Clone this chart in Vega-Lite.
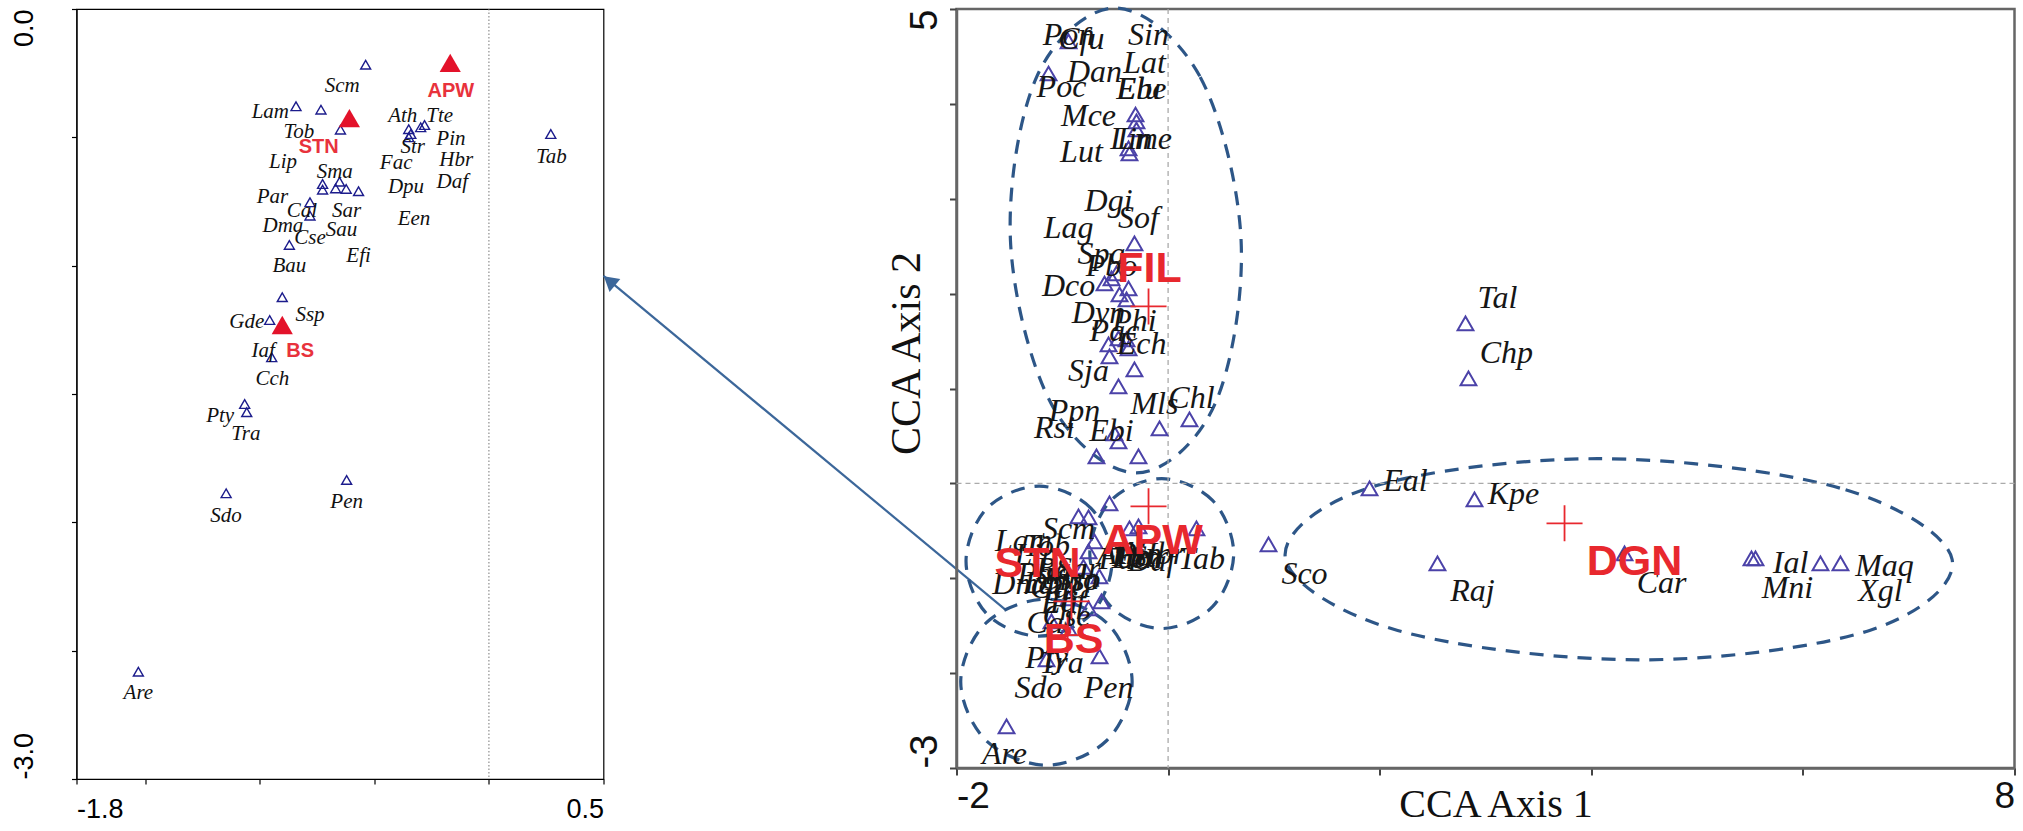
{
  "$schema": "https://vega.github.io/schema/vega-lite/v6.json",
  "background": "white",
  "padding": {"left": 9.5, "top": 0, "right": 0, "bottom": 0},
  "bounds": "flush",
  "spacing": 353,
  "config": {"axis": {"grid": false, "labelOverlap": false, "labelBound": false}},
  "datasets": {
    "left_points": [
      {"sp": "Scm", "x": -0.538, "y": -0.217, "grp": "sp"},
      {"sp": "Lam", "x": -0.842, "y": -0.379, "grp": "sp"},
      {"sp": "Tob", "x": -0.733, "y": -0.392, "grp": "sp"},
      {"sp": "Lip", "x": -0.648, "y": -0.470, "grp": "sp"},
      {"sp": "Ath", "x": -0.350, "y": -0.468, "grp": "sp"},
      {"sp": "Str", "x": -0.341, "y": -0.487, "grp": "sp"},
      {"sp": "Fac", "x": -0.350, "y": -0.500, "grp": "sp"},
      {"sp": "Tte", "x": -0.298, "y": -0.461, "grp": "sp"},
      {"sp": "Pin", "x": -0.281, "y": -0.452, "grp": "sp"},
      {"sp": "Tab", "x": 0.270, "y": -0.487, "grp": "sp"},
      {"sp": "Sma", "x": -0.726, "y": -0.682, "grp": "sp"},
      {"sp": "Par", "x": -0.726, "y": -0.704, "grp": "sp"},
      {"sp": "Sar", "x": -0.669, "y": -0.699, "grp": "sp"},
      {"sp": "Dpu", "x": -0.652, "y": -0.673, "grp": "sp"},
      {"sp": "Sau", "x": -0.623, "y": -0.701, "grp": "sp"},
      {"sp": "Efi", "x": -0.569, "y": -0.710, "grp": "sp"},
      {"sp": "Cal", "x": -0.781, "y": -0.753, "grp": "sp"},
      {"sp": "Dma", "x": -0.781, "y": -0.805, "grp": "sp"},
      {"sp": "Bau", "x": -0.871, "y": -0.919, "grp": "sp"},
      {"sp": "Ssp", "x": -0.902, "y": -1.123, "grp": "sp"},
      {"sp": "Gde", "x": -0.957, "y": -1.212, "grp": "sp"},
      {"sp": "Iaf", "x": -0.948, "y": -1.357, "grp": "sp"},
      {"sp": "Pty", "x": -1.066, "y": -1.539, "grp": "sp"},
      {"sp": "Tra", "x": -1.057, "y": -1.571, "grp": "sp"},
      {"sp": "Sdo", "x": -1.147, "y": -1.887, "grp": "sp"},
      {"sp": "Pen", "x": -0.621, "y": -1.835, "grp": "sp"},
      {"sp": "Are", "x": -1.530, "y": -2.582, "grp": "sp"},
      {"sp": "APW", "x": -0.169, "y": -0.210, "grp": "site"},
      {"sp": "STN", "x": -0.609, "y": -0.425, "grp": "site"},
      {"sp": "BS", "x": -0.902, "y": -1.231, "grp": "site"}
    ],
    "left_labels": [
      {"sp": "Scm", "x": -0.640, "y": -0.301, "grp": "sp"},
      {"sp": "Lam", "x": -0.954, "y": -0.400, "grp": "sp"},
      {"sp": "Tob", "x": -0.830, "y": -0.478, "grp": "sp"},
      {"sp": "Lip", "x": -0.899, "y": -0.597, "grp": "sp"},
      {"sp": "Ath", "x": -0.376, "y": -0.416, "grp": "sp"},
      {"sp": "Tte", "x": -0.215, "y": -0.418, "grp": "sp"},
      {"sp": "Pin", "x": -0.166, "y": -0.506, "grp": "sp"},
      {"sp": "Str", "x": -0.333, "y": -0.536, "grp": "sp"},
      {"sp": "Hbr", "x": -0.143, "y": -0.587, "grp": "sp"},
      {"sp": "Fac", "x": -0.405, "y": -0.601, "grp": "sp"},
      {"sp": "Daf", "x": -0.160, "y": -0.673, "grp": "sp"},
      {"sp": "Sma", "x": -0.673, "y": -0.636, "grp": "sp"},
      {"sp": "Dpu", "x": -0.362, "y": -0.695, "grp": "sp"},
      {"sp": "Par", "x": -0.945, "y": -0.734, "grp": "sp"},
      {"sp": "Cal", "x": -0.816, "y": -0.786, "grp": "sp"},
      {"sp": "Sar", "x": -0.621, "y": -0.788, "grp": "sp"},
      {"sp": "Een", "x": -0.327, "y": -0.818, "grp": "sp"},
      {"sp": "Dma", "x": -0.899, "y": -0.844, "grp": "sp"},
      {"sp": "Sau", "x": -0.643, "y": -0.861, "grp": "sp"},
      {"sp": "Cse", "x": -0.781, "y": -0.894, "grp": "sp"},
      {"sp": "Efi", "x": -0.569, "y": -0.961, "grp": "sp"},
      {"sp": "Bau", "x": -0.871, "y": -1.003, "grp": "sp"},
      {"sp": "Ssp", "x": -0.781, "y": -1.191, "grp": "sp"},
      {"sp": "Gde", "x": -1.057, "y": -1.221, "grp": "sp"},
      {"sp": "Iaf", "x": -0.985, "y": -1.331, "grp": "sp"},
      {"sp": "Cch", "x": -0.945, "y": -1.442, "grp": "sp"},
      {"sp": "Pty", "x": -1.173, "y": -1.584, "grp": "sp"},
      {"sp": "Tra", "x": -1.061, "y": -1.656, "grp": "sp"},
      {"sp": "Sdo", "x": -1.147, "y": -1.974, "grp": "sp"},
      {"sp": "Pen", "x": -0.621, "y": -1.922, "grp": "sp"},
      {"sp": "Are", "x": -1.530, "y": -2.666, "grp": "sp"},
      {"sp": "Tab", "x": 0.272, "y": -0.575, "grp": "sp"},
      {"sp": "APW", "x": -0.166, "y": -0.321, "grp": "site"},
      {"sp": "STN", "x": -0.743, "y": -0.539, "grp": "site"},
      {"sp": "BS", "x": -0.824, "y": -1.331, "grp": "site"}
    ],
    "arrow": [
      {"part": "shaft", "x": 0.5, "y": -1.040, "x2": 2.251, "y2": -2.338},
      {"part": "head", "x": 0.5256, "y": -1.059, "x2": 0.5256, "y2": -1.059}
    ],
    "ellipses": [
      {"grp": "FIL", "ord": 0, "x": 0.69, "y": 2.56},
      {"grp": "FIL", "ord": 1, "x": 0.30, "y": 4.29},
      {"grp": "FIL", "ord": 2, "x": -0.50, "y": 5.01},
      {"grp": "FIL", "ord": 3, "x": -1.24, "y": 4.29},
      {"grp": "FIL", "ord": 4, "x": -1.49, "y": 2.56},
      {"grp": "FIL", "ord": 5, "x": -1.10, "y": 0.83},
      {"grp": "FIL", "ord": 6, "x": -0.30, "y": 0.11},
      {"grp": "FIL", "ord": 7, "x": 0.44, "y": 0.83},
      {"grp": "STN", "ord": 0, "x": -0.53, "y": -0.82},
      {"grp": "STN", "ord": 1, "x": -0.73, "y": -0.26},
      {"grp": "STN", "ord": 2, "x": -1.22, "y": -0.03},
      {"grp": "STN", "ord": 3, "x": -1.71, "y": -0.26},
      {"grp": "STN", "ord": 4, "x": -1.91, "y": -0.82},
      {"grp": "STN", "ord": 5, "x": -1.71, "y": -1.38},
      {"grp": "STN", "ord": 6, "x": -1.22, "y": -1.61},
      {"grp": "STN", "ord": 7, "x": -0.73, "y": -1.38},
      {"grp": "APW", "ord": 0, "x": 0.62, "y": -0.74},
      {"grp": "APW", "ord": 1, "x": 0.42, "y": -0.18},
      {"grp": "APW", "ord": 2, "x": -0.06, "y": 0.05},
      {"grp": "APW", "ord": 3, "x": -0.54, "y": -0.18},
      {"grp": "APW", "ord": 4, "x": -0.74, "y": -0.74},
      {"grp": "APW", "ord": 5, "x": -0.54, "y": -1.30},
      {"grp": "APW", "ord": 6, "x": -0.06, "y": -1.53},
      {"grp": "APW", "ord": 7, "x": 0.42, "y": -1.30},
      {"grp": "BS", "ord": 0, "x": -0.34, "y": -2.09},
      {"grp": "BS", "ord": 1, "x": -0.58, "y": -1.47},
      {"grp": "BS", "ord": 2, "x": -1.15, "y": -1.22},
      {"grp": "BS", "ord": 3, "x": -1.72, "y": -1.47},
      {"grp": "BS", "ord": 4, "x": -1.96, "y": -2.09},
      {"grp": "BS", "ord": 5, "x": -1.72, "y": -2.71},
      {"grp": "BS", "ord": 6, "x": -1.15, "y": -2.97},
      {"grp": "BS", "ord": 7, "x": -0.58, "y": -2.71},
      {"grp": "DGN", "ord": 0, "x": 7.41, "y": -0.80},
      {"grp": "DGN", "ord": 1, "x": 6.35, "y": -0.05},
      {"grp": "DGN", "ord": 2, "x": 4.06, "y": 0.26},
      {"grp": "DGN", "ord": 3, "x": 1.89, "y": -0.05},
      {"grp": "DGN", "ord": 4, "x": 1.11, "y": -0.80},
      {"grp": "DGN", "ord": 5, "x": 2.17, "y": -1.55},
      {"grp": "DGN", "ord": 6, "x": 4.46, "y": -1.86},
      {"grp": "DGN", "ord": 7, "x": 6.63, "y": -1.55}
    ],
    "right_points": [
      {"sp": "Pon", "x": -0.941, "y": 4.658}, {"sp": "Poc", "x": -1.130, "y": 4.320},
      {"sp": "Elu", "x": -0.308, "y": 3.888}, {"sp": "Mce", "x": -0.299, "y": 3.815},
      {"sp": "Lin", "x": -0.299, "y": 3.730}, {"sp": "Lme", "x": -0.374, "y": 3.530},
      {"sp": "Lut", "x": -0.365, "y": 3.477}, {"sp": "Sof", "x": -0.318, "y": 2.529},
      {"sp": "Spa", "x": -0.488, "y": 2.213}, {"sp": "Pbo", "x": -0.535, "y": 2.160},
      {"sp": "Dco", "x": -0.601, "y": 2.107}, {"sp": "Dgi", "x": -0.374, "y": 2.055},
      {"sp": "Lag", "x": -0.459, "y": 1.992}, {"sp": "Dyn", "x": -0.393, "y": 1.939},
      {"sp": "Phi", "x": -0.469, "y": 1.528}, {"sp": "Ech", "x": -0.393, "y": 1.517},
      {"sp": "Pac", "x": -0.563, "y": 1.465}, {"sp": "Cfu", "x": -0.374, "y": 1.423},
      {"sp": "Sja", "x": -0.554, "y": 1.338}, {"sp": "Sin", "x": -0.318, "y": 1.201},
      {"sp": "Dan", "x": -0.469, "y": 1.022}, {"sp": "Chl", "x": 0.202, "y": 0.674},
      {"sp": "Mls", "x": -0.081, "y": 0.580}, {"sp": "Ebi", "x": -0.507, "y": 0.527},
      {"sp": "Ppn", "x": -0.469, "y": 0.443}, {"sp": "Rsi", "x": -0.677, "y": 0.285},
      {"sp": "Lat", "x": -0.280, "y": 0.285},
      {"sp": "Scm", "x": -0.554, "y": -0.211}, {"sp": "Lam", "x": -0.847, "y": -0.348},
      {"sp": "Tob", "x": -0.752, "y": -0.358}, {"sp": "Ath", "x": -0.365, "y": -0.474},
      {"sp": "Tte", "x": -0.280, "y": -0.453}, {"sp": "Tab", "x": 0.268, "y": -0.474},
      {"sp": "Lip", "x": -0.696, "y": -0.611}, {"sp": "Sma", "x": -0.752, "y": -0.717},
      {"sp": "Dma", "x": -0.800, "y": -0.880}, {"sp": "Sar", "x": -0.650, "y": -0.980},
      {"sp": "Cse", "x": -0.941, "y": -1.212}, {"sp": "Cal", "x": -0.752, "y": -1.317},
      {"sp": "Iaf", "x": -0.630, "y": -1.243}, {"sp": "Gde", "x": -1.102, "y": -1.454},
      {"sp": "Cch", "x": -0.941, "y": -1.528}, {"sp": "Tra", "x": -1.149, "y": -1.855},
      {"sp": "Pen", "x": -0.648, "y": -1.823}, {"sp": "Are", "x": -1.527, "y": -2.561},
      {"sp": "Sco", "x": 0.949, "y": -0.643}, {"sp": "Eal", "x": 1.904, "y": -0.053},
      {"sp": "Kpe", "x": 2.896, "y": -0.169}, {"sp": "Tal", "x": 2.811, "y": 1.686},
      {"sp": "Chp", "x": 2.839, "y": 1.106}, {"sp": "Raj", "x": 2.546, "y": -0.843},
      {"sp": "Car", "x": 4.314, "y": -0.738}, {"sp": "Ial", "x": 5.514, "y": -0.790},
      {"sp": "Mni", "x": 5.552, "y": -0.790}, {"sp": "Xgl", "x": 6.166, "y": -0.843},
      {"sp": "Maq", "x": 6.355, "y": -0.843}
    ],
    "right_labels": [
      {"sp": "Pon", "x": -0.941, "y": 4.731}, {"sp": "Cfu", "x": -0.819, "y": 4.689},
      {"sp": "Sin", "x": -0.185, "y": 4.731}, {"sp": "Dan", "x": -0.696, "y": 4.341},
      {"sp": "Lat", "x": -0.223, "y": 4.426}, {"sp": "Poc", "x": -1.008, "y": 4.183},
      {"sp": "Elu", "x": -0.280, "y": 4.152}, {"sp": "Ebe", "x": -0.251, "y": 4.152},
      {"sp": "Mce", "x": -0.752, "y": 3.867}, {"sp": "Lme", "x": -0.223, "y": 3.625},
      {"sp": "Lin", "x": -0.346, "y": 3.625}, {"sp": "Lut", "x": -0.819, "y": 3.498},
      {"sp": "Dgi", "x": -0.563, "y": 2.972}, {"sp": "Sof", "x": -0.280, "y": 2.792},
      {"sp": "Lag", "x": -0.941, "y": 2.687}, {"sp": "Spa", "x": -0.630, "y": 2.413},
      {"sp": "Pbo", "x": -0.535, "y": 2.287}, {"sp": "Dco", "x": -0.941, "y": 2.076},
      {"sp": "Dyn", "x": -0.658, "y": 1.791}, {"sp": "Phi", "x": -0.318, "y": 1.707},
      {"sp": "Pac", "x": -0.507, "y": 1.602}, {"sp": "Ech", "x": -0.251, "y": 1.465},
      {"sp": "Sja", "x": -0.752, "y": 1.180}, {"sp": "Mls", "x": -0.129, "y": 0.832},
      {"sp": "Chl", "x": 0.221, "y": 0.896}, {"sp": "Ppn", "x": -0.885, "y": 0.759},
      {"sp": "Rsi", "x": -1.074, "y": 0.580}, {"sp": "Ebi", "x": -0.535, "y": 0.548},
      {"sp": "Scm", "x": -0.941, "y": -0.485}, {"sp": "Lam", "x": -1.367, "y": -0.611},
      {"sp": "Tob", "x": -1.149, "y": -0.664}, {"sp": "Lip", "x": -1.250, "y": -0.750},
      {"sp": "Bau", "x": -1.008, "y": -0.906}, {"sp": "Dma", "x": -1.367, "y": -1.064},
      {"sp": "Dpu", "x": -1.102, "y": -1.054}, {"sp": "Sma", "x": -0.913, "y": -1.012},
      {"sp": "Par", "x": -1.200, "y": -0.950}, {"sp": "Sar", "x": -0.850, "y": -0.900},
      {"sp": "Gde", "x": -1.050, "y": -1.100}, {"sp": "Ssp", "x": -0.850, "y": -1.020},
      {"sp": "Efi", "x": -1.026, "y": -1.264}, {"sp": "Iaf", "x": -0.950, "y": -1.250},
      {"sp": "Cse", "x": -0.960, "y": -1.401}, {"sp": "Cal", "x": -1.121, "y": -1.475},
      {"sp": "Pty", "x": -1.149, "y": -1.844}, {"sp": "Tra", "x": -1.008, "y": -1.897},
      {"sp": "Sdo", "x": -1.225, "y": -2.160}, {"sp": "Pen", "x": -0.563, "y": -2.160},
      {"sp": "Are", "x": -1.546, "y": -2.856}, {"sp": "Tab", "x": 0.316, "y": -0.801},
      {"sp": "Ath", "x": -0.459, "y": -0.748}, {"sp": "Tte", "x": -0.365, "y": -0.769},
      {"sp": "Pin", "x": -0.270, "y": -0.748}, {"sp": "Str", "x": -0.176, "y": -0.780},
      {"sp": "Hbr", "x": -0.081, "y": -0.748}, {"sp": "Fac", "x": -0.422, "y": -0.801},
      {"sp": "Daf", "x": -0.157, "y": -0.822}, {"sp": "Een", "x": -0.300, "y": -0.790},
      {"sp": "Tal", "x": 3.113, "y": 1.949}, {"sp": "Chp", "x": 3.198, "y": 1.370},
      {"sp": "Eal", "x": 2.244, "y": 0.021}, {"sp": "Kpe", "x": 3.265, "y": -0.116},
      {"sp": "Car", "x": 4.664, "y": -1.054}, {"sp": "Raj", "x": 2.877, "y": -1.138},
      {"sp": "Ial", "x": 5.883, "y": -0.843}, {"sp": "Mni", "x": 5.854, "y": -1.106},
      {"sp": "Maq", "x": 6.771, "y": -0.875}, {"sp": "Xgl", "x": 6.733, "y": -1.138},
      {"sp": "Sco", "x": 1.289, "y": -0.959}
    ],
    "right_sites": [
      {"site": "FIL", "x": -0.185, "y": 1.865, "lx": -0.176, "ly": 2.255},
      {"site": "APW", "x": -0.185, "y": -0.242, "lx": -0.147, "ly": -0.611},
      {"site": "STN", "x": -0.913, "y": -1.243, "lx": -1.234, "ly": -0.854},
      {"site": "BS", "x": -0.950, "y": -1.600, "lx": -0.894, "ly": -1.654},
      {"site": "DGN", "x": 3.747, "y": -0.421, "lx": 4.408, "ly": -0.832}
    ]
  },
  "hconcat": [
    {
      "width": 527,
      "height": 770,
      "view": {"stroke": "#000", "strokeWidth": 1.2},
      "layer": [
        {
          "data": {"name": "left_points"},
          "transform": [{"filter": "datum.grp == 'sp'"}],
          "mark": {"type": "point", "shape": "triangle-up", "filled": false, "color": "#1c1c8c", "strokeWidth": 1.4, "size": 100, "opacity": 1},
          "encoding": {
            "x": {"field": "x", "type": "quantitative", "scale": {"domain": [-1.8, 0.5], "nice": false, "zero": false},
              "axis": {"values": [-1.8, -1.5, -1, -0.5, 0, 0.5], "labelExpr": "datum.value == -1.8 ? '-1.8' : (datum.value == 0.5 ? '0.5' : '')", "title": null, "domainColor": "#000", "domainWidth": 1.2, "tickColor": "#000", "tickSize": 5, "tickWidth": 1.2, "labelFont": "Liberation Sans", "labelFontSize": 27, "labelColor": "#000", "labelPadding": 12, "labelFlush": true}},
            "y": {"field": "y", "type": "quantitative", "scale": {"domain": [-3, 0], "nice": false, "zero": false},
              "axis": {"values": [-3, -2.5, -2, -1.5, -1, -0.5, 0], "labelExpr": "datum.value == 0 ? '0.0' : (datum.value == -3 ? '-3.0' : '')", "title": null, "domainColor": "#000", "domainWidth": 1.2, "tickColor": "#000", "tickSize": 5, "tickWidth": 1.2, "labelFont": "Liberation Sans", "labelFontSize": 27, "labelColor": "#000", "labelAngle": -90, "labelBaseline": "middle", "labelAlign": {"condition": {"test": "datum.value >= 0", "value": "right"}, "value": "left"}, "labelPadding": 47, "labelFlush": false}}
          }
        },
        {
          "data": {"values": [{"x": 0}]},
          "mark": {"type": "rule", "color": "#777", "strokeDash": [1.5, 2], "strokeWidth": 1},
          "encoding": {"x": {"field": "x", "type": "quantitative", "scale": {"domain": [-1.8, 0.5], "nice": false, "zero": false}}}
        },
        {
          "data": {"name": "left_points"},
          "transform": [{"filter": "datum.grp == 'site'"}],
          "mark": {"type": "point", "shape": "triangle-up", "filled": true, "color": "#e3122a", "size": 450, "opacity": 1},
          "encoding": {
            "x": {"field": "x", "type": "quantitative", "scale": {"domain": [-1.8, 0.5], "nice": false, "zero": false}},
            "y": {"field": "y", "type": "quantitative", "scale": {"domain": [-3, 0], "nice": false, "zero": false}}
          }
        },
        {
          "data": {"name": "left_labels"},
          "transform": [{"filter": "datum.grp == 'sp'"}],
          "mark": {"type": "text", "font": "Liberation Serif", "fontStyle": "italic", "fontSize": 21, "color": "#111", "align": "center", "baseline": "middle"},
          "encoding": {
            "x": {"field": "x", "type": "quantitative", "scale": {"domain": [-1.8, 0.5], "nice": false, "zero": false}},
            "y": {"field": "y", "type": "quantitative", "scale": {"domain": [-3, 0], "nice": false, "zero": false}},
            "text": {"field": "sp"}
          }
        },
        {
          "data": {"name": "left_labels"},
          "transform": [{"filter": "datum.grp == 'site'"}],
          "mark": {"type": "text", "font": "Liberation Sans", "fontWeight": "bold", "fontSize": 20, "color": "#e8323c", "align": "center", "baseline": "middle"},
          "encoding": {
            "x": {"field": "x", "type": "quantitative", "scale": {"domain": [-1.8, 0.5], "nice": false, "zero": false}},
            "y": {"field": "y", "type": "quantitative", "scale": {"domain": [-3, 0], "nice": false, "zero": false}},
            "text": {"field": "sp"}
          }
        },
        {
          "data": {"name": "arrow"},
          "transform": [{"filter": "datum.part == 'shaft'"}],
          "mark": {"type": "rule", "color": "#3c679a", "strokeWidth": 2.2, "clip": false},
          "encoding": {
            "x": {"field": "x", "type": "quantitative", "scale": {"domain": [-1.8, 0.5], "nice": false, "zero": false}},
            "y": {"field": "y", "type": "quantitative", "scale": {"domain": [-3, 0], "nice": false, "zero": false}},
            "x2": {"field": "x2"},
            "y2": {"field": "y2"}
          }
        },
        {
          "data": {"name": "arrow"},
          "transform": [{"filter": "datum.part == 'head'"}],
          "mark": {"type": "point", "shape": "triangle-up", "filled": true, "color": "#3c679a", "size": 280, "angle": 310, "opacity": 1, "clip": false},
          "encoding": {
            "x": {"field": "x", "type": "quantitative", "scale": {"domain": [-1.8, 0.5], "nice": false, "zero": false}},
            "y": {"field": "y", "type": "quantitative", "scale": {"domain": [-3, 0], "nice": false, "zero": false}}
          }
        }
      ]
    },
    {
      "width": 1058,
      "height": 759,
      "view": {"stroke": "#666", "strokeWidth": 2.5},
      "layer": [
        {
          "data": {"name": "ellipses"},
          "mark": {"type": "line", "interpolate": "cardinal-closed", "color": "#2d5687", "strokeWidth": 3.2, "strokeDash": [14, 10]},
          "encoding": {
            "x": {"field": "x", "type": "quantitative", "scale": {"domain": [-2, 8], "nice": false, "zero": false},
              "axis": {"values": [-2, 0, 2, 4, 6, 8], "labelExpr": "datum.value == -2 ? '-2' : (datum.value == 8 ? '8' : '')", "title": "CCA Axis 1", "titleFont": "Liberation Serif", "titleFontSize": 40, "titleFontWeight": "normal", "titleColor": "#111", "titleX": 539, "titleY": 36, "titleAlign": "center", "titleBaseline": "middle", "domainColor": "#666", "domainWidth": 2.5, "tickColor": "#444", "tickSize": 7, "tickWidth": 2, "labelFont": "Liberation Sans", "labelFontSize": 37, "labelColor": "#111", "labelPadding": 3, "labelFlush": true}},
            "y": {"field": "y", "type": "quantitative", "scale": {"domain": [-3, 5], "nice": false, "zero": false},
              "axis": {"values": [-3, -2, -1, 0, 1, 2, 3, 4, 5], "labelExpr": "datum.value == 5 ? '5' : (datum.value == -3 ? '-3' : '')", "title": "CCA Axis 2", "titleFont": "Liberation Serif", "titleFontSize": 42, "titleFontWeight": "normal", "titleColor": "#111", "titleAngle": -90, "titleX": -50, "titleY": 344, "titleAlign": "center", "titleBaseline": "middle", "domainColor": "#666", "domainWidth": 2.5, "tickColor": "#444", "tickSize": 7, "tickWidth": 2, "labelFont": "Liberation Sans", "labelFontSize": 38, "labelColor": "#111", "labelAngle": -90, "labelBaseline": "middle", "labelAlign": {"condition": {"test": "datum.value >= 5", "value": "right"}, "value": "left"}, "labelPadding": 24, "labelFlush": false}},
            "detail": {"field": "grp"},
            "order": {"field": "ord", "type": "quantitative"}
          }
        },
        {
          "data": {"values": [{"x": 0}]},
          "mark": {"type": "rule", "color": "#aaa", "strokeDash": [5, 4], "strokeWidth": 1.3},
          "encoding": {"x": {"field": "x", "type": "quantitative", "scale": {"domain": [-2, 8], "nice": false, "zero": false}}}
        },
        {
          "data": {"values": [{"y": 0}]},
          "mark": {"type": "rule", "color": "#aaa", "strokeDash": [5, 4], "strokeWidth": 1.3},
          "encoding": {"y": {"field": "y", "type": "quantitative", "scale": {"domain": [-3, 5], "nice": false, "zero": false}}}
        },
        {
          "data": {"name": "right_points"},
          "mark": {"type": "point", "shape": "triangle-up", "filled": false, "color": "#4b42a8", "strokeWidth": 2, "size": 250, "opacity": 1},
          "encoding": {
            "x": {"field": "x", "type": "quantitative", "scale": {"domain": [-2, 8], "nice": false, "zero": false}},
            "y": {"field": "y", "type": "quantitative", "scale": {"domain": [-3, 5], "nice": false, "zero": false}}
          }
        },
        {
          "data": {"name": "right_labels"},
          "mark": {"type": "text", "font": "Liberation Serif", "fontStyle": "italic", "fontSize": 32, "color": "#161616", "align": "center", "baseline": "middle"},
          "encoding": {
            "x": {"field": "x", "type": "quantitative", "scale": {"domain": [-2, 8], "nice": false, "zero": false}},
            "y": {"field": "y", "type": "quantitative", "scale": {"domain": [-3, 5], "nice": false, "zero": false}},
            "text": {"field": "sp"}
          }
        },
        {
          "data": {"name": "right_sites"},
          "mark": {"type": "point", "shape": "M-1,0L1,0M0,-1L0,1", "filled": false, "color": "#e8282e", "strokeWidth": 1.8, "size": 1300, "opacity": 1},
          "encoding": {
            "x": {"field": "x", "type": "quantitative", "scale": {"domain": [-2, 8], "nice": false, "zero": false}},
            "y": {"field": "y", "type": "quantitative", "scale": {"domain": [-3, 5], "nice": false, "zero": false}}
          }
        },
        {
          "data": {"name": "right_sites"},
          "mark": {"type": "text", "font": "Liberation Sans", "fontWeight": "bold", "fontSize": 43, "color": "#e8282e", "align": "center", "baseline": "middle"},
          "encoding": {
            "x": {"field": "lx", "type": "quantitative", "scale": {"domain": [-2, 8], "nice": false, "zero": false}},
            "y": {"field": "ly", "type": "quantitative", "scale": {"domain": [-3, 5], "nice": false, "zero": false}},
            "text": {"field": "site"}
          }
        }
      ]
    }
  ]
}
